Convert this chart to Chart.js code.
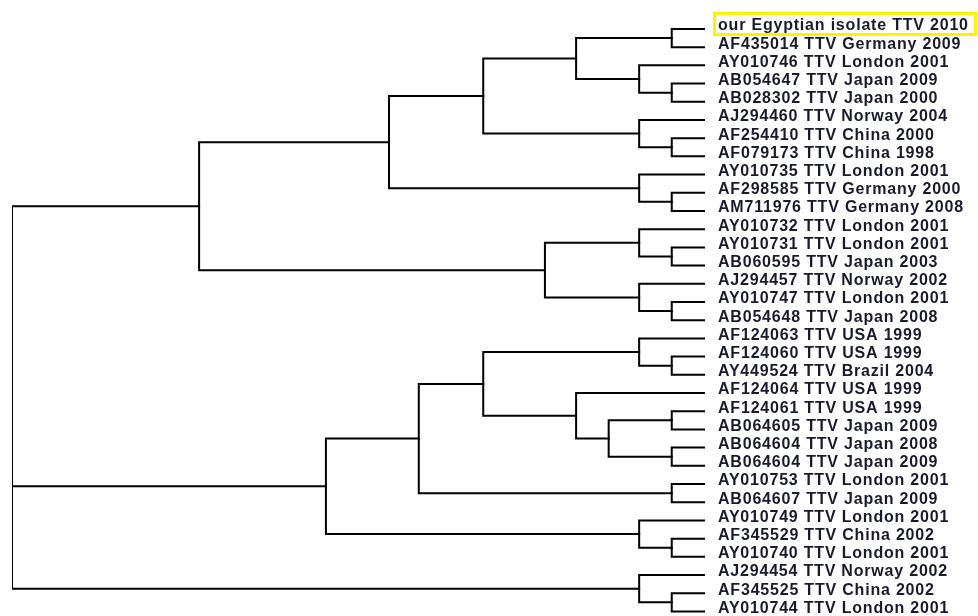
<!DOCTYPE html>
<html>
<head>
<meta charset="utf-8">
<title>TTV phylogenetic tree</title>
<script src="https://cdn.jsdelivr.net/npm/chart.js@4.4.1/dist/chart.umd.min.js"></script>
<style>
  html, body { margin: 0; padding: 0; background: #fff; }
  #wrap { width: 978px; height: 616px; }
</style>
</head>
<body>
<div id="wrap"><canvas id="tree" width="978" height="616"></canvas></div>
<script>
// leaf labels, top to bottom
const leafLabels = [
    'our Egyptian isolate TTV 2010',
    'AF435014 TTV Germany 2009',
    'AY010746 TTV London 2001',
    'AB054647 TTV Japan 2009',
    'AB028302 TTV Japan 2000',
    'AJ294460 TTV Norway 2004',
    'AF254410 TTV China 2000',
    'AF079173 TTV China 1998',
    'AY010735 TTV London 2001',
    'AF298585 TTV Germany 2000',
    'AM711976 TTV Germany 2008',
    'AY010732 TTV London 2001',
    'AY010731 TTV London 2001',
    'AB060595 TTV Japan 2003',
    'AJ294457 TTV Norway 2002',
    'AY010747 TTV London 2001',
    'AB054648 TTV Japan 2008',
    'AF124063 TTV USA 1999',
    'AF124060 TTV USA 1999',
    'AY449524 TTV Brazil 2004',
    'AF124064 TTV USA 1999',
    'AF124061 TTV USA 1999',
    'AB064605 TTV Japan 2009',
    'AB064604 TTV Japan 2008',
    'AB064604 TTV Japan 2009',
    'AY010753 TTV London 2001',
    'AB064607 TTV Japan 2009',
    'AY010749 TTV London 2001',
    'AF345529 TTV China 2002',
    'AY010740 TTV London 2001',
    'AJ294454 TTV Norway 2002',
    'AF345525 TTV China 2002',
    'AY010744 TTV London 2001'
];

// internal nodes: id, distance from root (0..100), children
// children: number = leaf index, string = node id
const nodeIds = ['n01', 'n02', 'n03', 'n04', 'n05', 'n06', 'n07', 'n08', 'n09', 'n10',
                 'n11', 'n12', 'n13', 'n14', 'n15', 'n16', 'n17', 'n18', 'n19', 'n20',
                 'n21', 'n22', 'n23', 'n24', 'n25', 'n26', 'n27', 'n28', 'n29', 'n30', 'root'];
const nodeDepths = [95.2, 95.2, 90.5, 81.4, 95.2, 90.5, 68.0, 95.2, 90.5, 54.4,
                    95.2, 90.5, 95.2, 90.5, 76.9, 27.0, 95.2, 90.5, 95.2, 95.2,
                    86.1, 81.4, 68.0, 95.2, 58.7, 95.2, 90.5, 45.3, 95.2, 90.5, 0];
const nodeChildren = [
    [0, 1], [3, 4], [2, 'n02'], ['n01', 'n03'],
    [6, 7], [5, 'n05'], ['n04', 'n06'],
    [9, 10], [8, 'n08'], ['n07', 'n09'],
    [12, 13], [11, 'n11'], [15, 16], [14, 'n13'], ['n12', 'n14'],
    ['n10', 'n15'],
    [18, 19], [17, 'n17'], [21, 22], [23, 24], ['n19', 'n20'], [20, 'n21'],
    ['n18', 'n22'], [25, 26], ['n23', 'n24'],
    [28, 29], [27, 'n26'], ['n25', 'n27'],
    [31, 32], [30, 'n29'],
    ['n16', 'n28', 'n30']
];
const tipDepth = 100;
const highlightLeaf = 0;

// position helpers
function depthOf(c) {
    return typeof c === 'number' ? tipDepth : nodeDepths[nodeIds.indexOf(c)];
}
function rowOf(c) {
    if (typeof c === 'number') return c;
    const kids = nodeChildren[nodeIds.indexOf(c)];
    return (rowOf(kids[0]) + rowOf(kids[kids.length - 1])) / 2;
}

// one bracket dataset per node, plus extra horizontals for middle children
const datasets = [];
nodeIds.forEach(function (id, i) {
    const d = nodeDepths[i];
    const kids = nodeChildren[i];
    const first = kids[0], last = kids[kids.length - 1];
    const pts = [
        { x: depthOf(first), y: rowOf(first) },
        { x: d, y: rowOf(first) },
        { x: d, y: rowOf(last) },
        { x: depthOf(last), y: rowOf(last) }
    ];
    datasets.push({ data: pts });
    kids.slice(1, -1).forEach(function (k) {
        datasets.push({ data: [{ x: d, y: rowOf(k) }, { x: depthOf(k), y: rowOf(k) }] });
    });
});
datasets.forEach(function (ds) {
    ds.showLine = true;
    ds.borderColor = '#000';
    ds.borderWidth = 2;
    ds.pointRadius = 0;
    ds.tension = 0;
    ds.borderJoinStyle = 'miter';
    ds.borderCapStyle = 'square';
});

const highlightBox = {
    id: 'highlightBox',
    beforeDraw(chart) {
        chart.ctx.letterSpacing = '0.8px';
    },
    afterDraw(chart) {
        const ctx = chart.ctx;
        const y = chart.scales.y.getPixelForValue(highlightLeaf);
        ctx.save();
        ctx.strokeStyle = '#fff200';
        ctx.lineWidth = 3;
        ctx.strokeRect(714.5, y - 15.5, 261, 21);
        ctx.restore();
    }
};

new Chart(document.getElementById('tree'), {
    type: 'scatter',
    data: { datasets: datasets },
    plugins: [highlightBox],
    options: {
        responsive: false,
        animation: false,
        devicePixelRatio: 1,
        layout: { padding: { left: 12, right: 0, top: 0, bottom: 0 } },
        plugins: { legend: { display: false }, tooltip: { enabled: false } },
        scales: {
            x: { type: 'linear', min: 0, max: tipDepth, display: false },
            y: {
                type: 'linear',
                position: 'right',
                reverse: true,
                min: -1.59,
                max: 32.25,
                grid: { display: false, drawTicks: false },
                border: { display: false },
                afterBuildTicks: function (s) {
                    s.ticks = leafLabels.map(function (_, i) { return { value: i }; });
                },
                afterFit: function (s) {
                    s.width = 273;
                    s.paddingTop = 0;
                    s.paddingBottom = 0;
                },
                ticks: {
                    autoSkip: false,
                    padding: 13,
                    labelOffset: -3,
                    color: '#1a1a2e',
                    font: { family: "'Liberation Sans', Arial, sans-serif", size: 16, weight: 'bold' },
                    callback: function (v) { return leafLabels[v]; }
                }
            }
        }
    }
});
</script>
</body>
</html>
